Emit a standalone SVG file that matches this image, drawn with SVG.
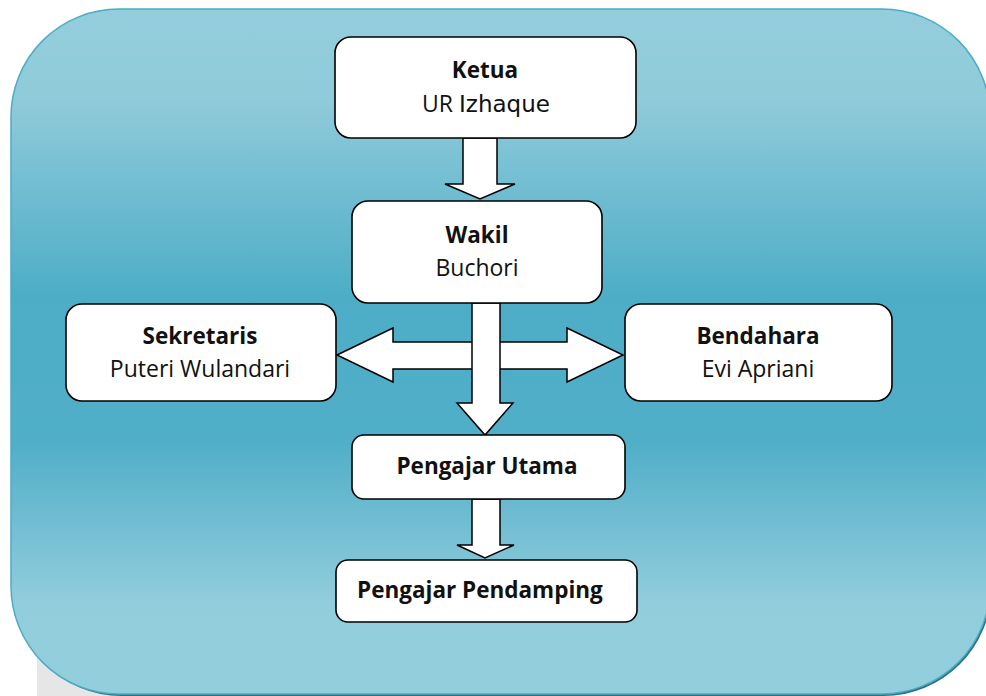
<svg xmlns="http://www.w3.org/2000/svg" width="986" height="696" viewBox="0 0 986 696">
<defs>
<linearGradient id="bg" x1="0" y1="0" x2="0" y2="1">
<stop offset="0" stop-color="#94cedd"/>
<stop offset="0.13" stop-color="#90cbda"/>
<stop offset="0.42" stop-color="#4dadc7"/>
<stop offset="0.63" stop-color="#50aec8"/>
<stop offset="0.87" stop-color="#92cddc"/>
<stop offset="1" stop-color="#93cedd"/>
</linearGradient>
<style>
.node rect{fill:#ffffff;stroke:#000000;stroke-width:1.6}
.arrow{fill:#ffffff;stroke:#000000;stroke-width:1.5;stroke-linejoin:miter}
.t{font-family:"Open Sans","Noto Sans","Liberation Sans",sans-serif;font-size:23px;fill:#111111;text-anchor:middle}
.b{font-weight:700;font-size:22.5px}
.c{font-family:"DejaVu Sans","Open Sans",sans-serif}
</style>
</defs>
<rect x="0" y="0" width="986" height="696" fill="#ffffff"/>
<rect x="37" y="560" width="200" height="140" fill="#e6e6e6"/>
<rect x="13.5" y="12" width="978" height="684" rx="108" ry="108" fill="#2c6f86"/>
<rect x="11" y="9" width="979" height="685" rx="108" ry="108" fill="url(#bg)" stroke="#4bacc6" stroke-width="1.5"/>
<g id="connectors">
<polygon class="arrow" points="463,138 497,138 497,184 515,184 480,199 445,184 463,184"/>
<polygon class="arrow" points="337,355 393,328 393,342 567,342 567,328 623,355 567,382 567,369 393,369 393,382"/>
<polygon class="arrow" points="472,303 500,303 500,403 513,403 485,435 457,403 472,403"/>
<polygon class="arrow" points="472,499 500,499 500,545 514,545 485,558 457,545 472,545"/>
</g>
<g id="ketua" class="node">
<rect x="335" y="37" width="301" height="101" rx="16"/>
<text class="t b" x="485" y="78">Ketua</text>
<text class="t" x="486" y="112">UR <tspan class="c">Izhaque</tspan></text>
</g>
<g id="wakil" class="node">
<rect x="352" y="201" width="250" height="102" rx="16"/>
<text class="t b" x="477" y="243">Wakil</text>
<text class="t" x="477" y="276">Buchori</text>
</g>
<g id="sekretaris" class="node">
<rect x="66" y="304" width="270" height="97" rx="16"/>
<text class="t b" x="200" y="344">Sekretaris</text>
<text class="t" x="200" y="377">Puteri Wulandari</text>
</g>
<g id="bendahara" class="node">
<rect x="625" y="304" width="267" height="97" rx="16"/>
<text class="t b" x="758" y="344">Bendahara</text>
<text class="t" x="758" y="377">Evi Apriani</text>
</g>
<g id="pengajar-utama" class="node">
<rect x="352" y="435" width="273" height="64" rx="12"/>
<text class="t b" x="487" y="474">Pengajar Utama</text>
</g>
<g id="pengajar-pendamping" class="node">
<rect x="336" y="560" width="301" height="62" rx="12"/>
<text class="t b" x="357" y="598" style="text-anchor:start">Pengajar Pendamping</text>
</g>
</svg>
